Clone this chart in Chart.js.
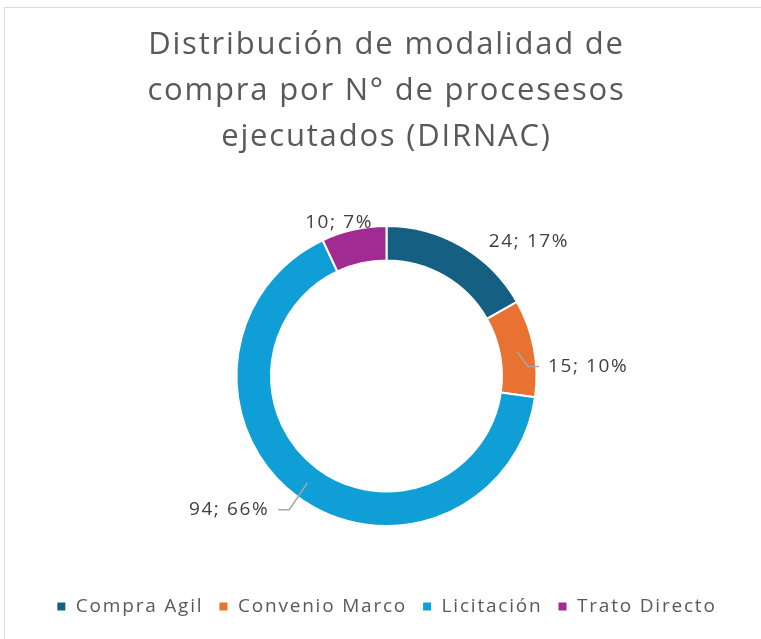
<!DOCTYPE html>
<html>
<head>
<meta charset="utf-8">
<script src="https://cdn.jsdelivr.net/npm/chart.js@4.4.1/dist/chart.umd.min.js"></script>
<style>
  html, body { margin: 0; padding: 0; background: #fff; overflow: hidden; }
  #frame { position: absolute; left: 4px; top: 7px; width: 800px; height: 700px;
           border: 1px solid #d9d9d9; box-sizing: border-box; }
  #wrap { position: absolute; left: 0; top: 0; width: 761px; height: 639px; }
</style>
</head>
<body>
<div id="frame"></div>
<div id="wrap"><canvas id="modalidadChart" width="761" height="639"></canvas></div>
<script>
// modalidades de compra y n° de procesos ejecutados
var categories = ['Compra Agil', 'Convenio Marco', 'Licitación', 'Trato Directo'];
var procesos = [24, 15, 94, 10];
var porcentajes = ['17%', '10%', '66%', '7%'];
var colores = ['#156082', '#E97132', '#0F9ED5', '#A02B93'];

var FONT = '"Open Sans", Roboto, sans-serif';

// where each label sits: angle shift from slice middle (deg), distance as share of outer radius
var labelPlacement = [
    { da: 16.4, r: 1.307, leader: false },
    { da: 7.1, r: 1.019, leader: true },
    { da: 2.5, r: 1.147, leader: true },
    { da: -4.6, r: 1.07, leader: false }
];

// excel's font is wider, so open up the letters a bit
var spacing = {
    id: 'spacing',
    beforeUpdate: function (chart) { chart.ctx.letterSpacing = '1.8px'; },
    beforeDraw: function (chart) { chart.ctx.letterSpacing = '1.8px'; }
};

// labels "valor; %" with leader lines, like excel
var sliceLabels = {
    id: 'sliceLabels',
    afterDatasetsDraw: function (chart) {
        var ctx = chart.ctx;
        var meta = chart.getDatasetMeta(0);
        ctx.save();
        ctx.font = '19px ' + FONT;
        ctx.letterSpacing = '1.6px';
        ctx.fillStyle = '#404040';
        ctx.textBaseline = 'middle';
        meta.data.forEach(function (arc, i) {
            var p = arc.getProps(['x', 'y', 'startAngle', 'endAngle', 'innerRadius', 'outerRadius'], true);
            var mid = (p.startAngle + p.endAngle) / 2;
            var pl = labelPlacement[i];
            var a = mid + pl.da * Math.PI / 180;
            var ax = p.x + Math.cos(a) * p.outerRadius * pl.r;
            var ay = p.y + Math.sin(a) * p.outerRadius * pl.r;
            var text = procesos[i] + '; ' + porcentajes[i];
            if (pl.leader) {
                var lr = p.innerRadius + (p.outerRadius - p.innerRadius) * 0.5;
                var sx = p.x + Math.cos(mid) * lr;
                var sy = p.y + Math.sin(mid) * lr;
                var side = ax >= p.x ? 1 : -1;
                ctx.beginPath();
                ctx.strokeStyle = '#a6a6a6';
                ctx.lineWidth = 1.5;
                ctx.moveTo(sx, sy);
                ctx.lineTo(ax - side * 11, ay);
                ctx.lineTo(ax, ay);
                ctx.stroke();
                ctx.textAlign = side > 0 ? 'left' : 'right';
                ctx.fillText(text, ax + side * 9, ay);
            } else {
                ctx.textAlign = 'center';
                ctx.fillText(text, ax, ay);
            }
        });
        ctx.restore();
    }
};

var ctxModalidad = document.getElementById('modalidadChart').getContext('2d');
var modalidadChart = new Chart(ctxModalidad, {
    type: 'doughnut',
    data: {
        labels: categories,
        datasets: [{
            label: 'N° de procesos',
            data: procesos,
            backgroundColor: colores,
            borderColor: '#ffffff',
            borderWidth: 2
        }]
    },
    options: {
        responsive: false,
        animation: false,
        radius: 150,
        cutout: '77%',
        layout: {
            padding: { top: 22, left: 12, right: 0, bottom: 13 }
        },
        plugins: {
            title: {
                display: true,
                text: ['Distribución de modalidad de', 'compra por N° de procesesos', 'ejecutados (DIRNAC)'],
                color: '#595959',
                font: { family: FONT, size: 31, weight: 'normal', lineHeight: 1.484 },
                padding: { top: 0, bottom: 10 }
            },
            legend: {
                position: 'bottom',
                labels: {
                    color: '#595959',
                    font: { family: FONT, size: 19 },
                    boxWidth: 10,
                    boxHeight: 10,
                    padding: 15
                }
            },
            tooltip: { enabled: false }
        }
    },
    plugins: [spacing, sliceLabels]
});
</script>
</body>
</html>
